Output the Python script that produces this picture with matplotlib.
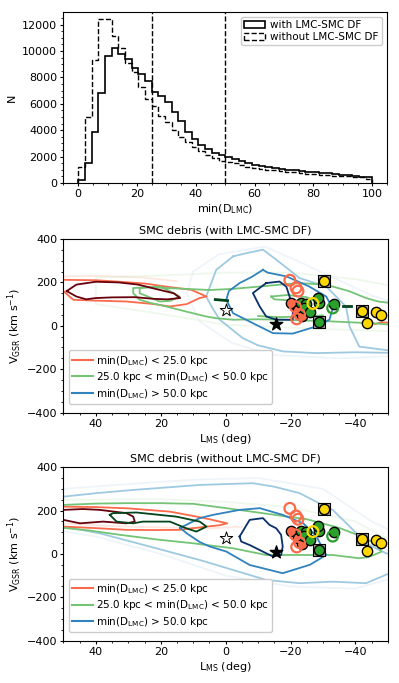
import numpy as np
import matplotlib
matplotlib.use('Agg')
import matplotlib.pyplot as plt
from matplotlib.lines import Line2D

plt.rcParams['font.size'] = 8
plt.rcParams['xtick.major.size'] = 2.5
plt.rcParams['ytick.major.size'] = 2.5
plt.rcParams['xtick.minor.size'] = 1.5
plt.rcParams['ytick.minor.size'] = 1.5
plt.rcParams['xtick.major.pad'] = 2
plt.rcParams['ytick.major.pad'] = 2

# ---------------- histogram of min(D_LMC) ----------------
bin_edges = np.linspace(0, 100, 45)
with_df = [200, 1500, 3850, 6850, 9600, 10200, 9750, 9400, 8700, 8250, 7700,
           6900, 6600, 6100, 5400, 4700, 3850, 3300, 2900, 2600, 2300, 2100,
           1950, 1800, 1700, 1550, 1400, 1300, 1200, 1120, 1060, 1000, 950, 900,
           860, 820, 780, 730, 680, 630, 580, 530, 480, 450]
without_df = [1200, 5000, 9300, 12450, 12450, 11150, 10200, 9100, 8400, 7300, 6400,
              5800, 5050, 4600, 4000, 3450, 3100, 2750, 2450, 2150, 1900, 1700,
              1600, 1480, 1370, 1250, 1150, 1080, 1010, 950, 900, 860, 810, 760,
              720, 680, 640, 610, 570, 540, 500, 460, 420, 330]
cuts = [25, 50]

# ---------------- observed points (L_MS, V_GSR) ----------------
yellow_L = [-30.2, -41.9, -46.4, -47.9, -43.6]
yellow_V = [208, 69, 63, 52, 14]
green_L = [-23.3, -24.8, -24.3, -28.9, -28.4, -26.0, -33.5, -28.8]
green_V = [105, 100, 82, 105, 128, 62, 100, 18]
red_fill_L = [-20.3, -22.3, -23.6]
red_fill_V = [105, 72, 45]
red_open_L = [-19.8, -21.7, -22.3, -21.5, -22.8, -21.9]
red_open_V = [210, 175, 160, 88, 52, 32]
boxed_L = [-30.2, -41.9, -28.8]
boxed_V = [208, 69, 18]
yellow_ring = (-26.9, 103)
green_ring = (-33.0, 82)
open_star = (0.0, 72)
filled_star = (-15.4, 8)

# ---------------- contours, with LMC-SMC DF ----------------
w_red_faint = [(50, 228), (38, 230), (25, 222), (15, 205)]
w_red_mid = [(50, 212), (40, 210), (33.6, 204), (25, 195), (18, 180), (10.6, 166), (5.9, 135),
             (8, 128), (12, 100), (17.2, 89), (22, 100), (30.6, 112), (40, 116), (47, 120), (50, 160)]
w_red_edge = [(-46, 8), (-48, 16), (-51, 14)]
w_red_dark = [(49, 160), (46, 190), (40, 203), (33, 200), (27, 190), (21, 168), (16, 150), (14, 128),
              (18, 122), (22, 124), (28, 132), (35, 131), (40, 128), (43, 122), (46, 135), (49, 160)]
w_green_faint = [(-51, 185), (-40, 215), (-20, 245), (0, 245), (20, 232), (40, 222),
                 (40, 100), (20, 55), (0, 5), (-30, -15), (-51, -25)]
w_green_mid = [(-51, 105), (-47, 112), (-43.3, 128), (-38, 160), (-33, 181), (-28, 192), (-22.8, 197),
               (-17, 190), (-10.5, 181), (-2, 170), (5, 165), (12, 170), (18, 174), (24, 178),
               (28.5, 174), (28.5, 151), (26.5, 120), (23, 105), (18.3, 89), (12, 65), (6, 43),
               (3, 35), (-2.3, 28), (-10, 30), (-17.6, 28), (-25, 24), (-33, 20), (-40, 15),
               (-45, 12), (-51, 5)]
w_green_loop = [(26.5, 174), (20.3, 181), (17.2, 160), (14.2, 135), (17, 115), (20.3, 112),
                (24, 135), (26.5, 150), (26.5, 174)]
w_green_inner = [(-14, 135), (-19, 142), (-25, 132), (-27, 118), (-21, 116), (-15, 122), (-14, 135)]
w_green_inner2 = [(-10, 45), (-16, 40), (-22, 42), (-30, 48)]
w_green_dark1 = [(3.2, 121), (-0.6, 116)]
w_green_dark2 = [(-36.3, 89), (-38.8, 89)]
w_blue_faint = [(10, 250), (2, 330), (-12, 365), (-22, 300), (-35, 210), (-45, 140), (-51, 110),
                (-51, -140), (-35, -150), (-15, -135), (-2, -80), (8, 20), (12, 150), (10, 250)]
w_blue_light = [(-2.3, 320), (-6.4, 335), (-11.5, 351), (-15.6, 305), (-22.8, 220), (-31, 181),
                (-37.1, 89), (-38.2, -3), (-41.2, -96), (-49.4, -112), (-52, -115), (-52, -125),
                (-40, -122), (-27.9, -126), (-17.6, -118), (-10, -90), (-5.3, -57), (1.8, 28),
                (4, 80), (6, 135), (2.9, 258), (-2.3, 320)]
w_blue_mid = [(-11.5, 258), (-8, 225), (-4.3, 197), (-1, 160), (-0.2, 120), (-2.3, 58), (-8.4, 12),
              (-14.6, -34), (-20.7, -36), (-27.9, -3), (-32, 28), (-33, 80), (-31, 135),
              (-25.8, 181), (-18.7, 228), (-13, 245), (-11.5, 258)]
w_blue_dark = [(-12.5, 197), (-16.6, 204), (-18.7, 181), (-19.7, 135), (-20.7, 80), (-20.7, 28),
               (-15.6, 28), (-12.5, 43), (-10.5, 89), (-8.4, 151), (-12.5, 197)]

# ---------------- contours, without LMC-SMC DF ----------------
o_red_faint = [(50, 140), (35, 128), (20, 122), (5, 118), (-5, 125)]
o_red_mid = [(50, 218), (40, 216), (30, 210), (17.2, 195), (10, 175), (5, 160), (-0.5, 141),
             (2, 132), (5.9, 126), (14.2, 111), (22, 110), (30.6, 111), (40.2, 119), (50, 126)]
o_red_dark = [(50, 203), (44, 207), (38.8, 203), (30.6, 188), (28.5, 172), (28, 149), (30.6, 141),
              (37.8, 149), (44.9, 141), (50, 157)]
o_green_faint = [(50, 250), (20, 252), (0, 240), (-20, 215), (-40, 150), (-51, 60)]
o_green_mid = [(50, 226), (40, 232), (30.6, 234), (20, 234), (10, 231), (-0.2, 211), (-8, 195),
               (-17.6, 175), (-25, 160), (-35, 120), (-42, 80), (-47, 40), (-48, 10), (-44, -15),
               (-41.2, -20), (-33, -5), (-22.8, -5), (-12.5, -5), (-2.3, 26), (5.9, 41), (10, 49),
               (20.3, 65), (32.6, 88), (42, 108), (50, 120)]
o_green_dark = [(35.7, 180), (34.7, 188), (27.5, 191), (15.2, 172), (8, 149), (5.9, 126), (9, 103),
                (12.1, 118), (17.2, 149), (25.5, 149), (28.5, 141), (33.6, 149), (35.7, 180)]
o_blue_faint = [(50, 300), (30, 322), (10, 342), (-10, 350), (-30, 300), (-45, 150), (-52, 100),
                (-52, -110), (-40, -160), (-20, -150), (0, -100), (20, 0), (40, 80), (52, 110)]
o_blue_light = [(50, 264), (40, 280), (28.5, 295), (15, 310), (8, 318), (0, 322), (-8.4, 326),
                (-15, 310), (-22.8, 280), (-28, 240), (-33, 203), (-38, 130), (-43.3, 49),
                (-49.4, 3), (-52, -5), (-52, -80), (-43.3, -135), (-33, -128), (-22.8, -135),
                (-12.5, -120), (-2.3, -74), (8, -28), (23.4, 34), (38.8, 95), (50, 126)]
o_blue_mid = [(14, 120), (8, 165), (3.9, 180), (-4.3, 203), (-10.5, 211), (-17.6, 180), (-24, 140),
              (-28, 80), (-31, -5), (-26, -50), (-17.6, -89), (-7.4, -51), (-0.2, 11), (4.9, 34),
              (8, 55), (12, 95), (14, 120)]
o_blue_dark = [(-4.3, 80), (-7.4, 157), (-11.5, 165), (-13.5, 134), (-15.6, 118), (-17.1, 88),
               (-17.6, 34), (-17.1, -5), (-14.6, -12), (-12.5, 3), (-10.5, 18), (-7.4, 41),
               (-4.8, 57), (-4.3, 80)]

red_c = ['#fcbba1', '#fb6a4a', '#67000d']
green_c = ['#c7e9c0', '#74c476', '#00441b']
blue_c = ['#deebf7', '#9ecae1', '#3182bd', '#08306b']


def draw(ax, pts, color, lw=1.3, alpha=1.0):
    xs, ys = zip(*pts)
    ax.plot(xs, ys, color=color, lw=lw, alpha=alpha, zorder=2)


def obs_points(ax):
    ax.scatter(boxed_L, boxed_V, marker='s', s=80, facecolor='#a0a0a0', edgecolor='k', lw=0.8, zorder=4)
    ax.scatter(red_fill_L, red_fill_V, s=55, facecolor='#fb6a4a', edgecolor='k', lw=1, zorder=5)
    ax.scatter(green_L, green_V, s=55, facecolor='#2ca02c', edgecolor='k', lw=1, zorder=5)
    ax.scatter(yellow_L, yellow_V, s=55, facecolor='gold', edgecolor='k', lw=1, zorder=5)
    ax.scatter(red_open_L, red_open_V, s=60, facecolor='none', edgecolor='#fb6a4a', lw=1.6, zorder=6)
    ax.scatter(*yellow_ring, s=60, facecolor='none', edgecolor='gold', lw=1.6, zorder=6)
    ax.scatter(*green_ring, s=60, facecolor='none', edgecolor='#2ca02c', lw=1.6, zorder=6)
    ax.scatter(*open_star, marker='*', s=90, facecolor='white', edgecolor='k', lw=0.7, zorder=6)
    ax.scatter(*filled_star, marker='*', s=90, facecolor='k', edgecolor='k', zorder=6)


def style_panel(ax, title):
    ax.set_xlim(50, -50)
    ax.set_ylim(-400, 400)
    ax.set_xticks([40, 20, 0, -20, -40])
    ax.set_yticks([-400, -200, 0, 200, 400])
    ax.minorticks_on()
    ax.set_title(title, fontsize=8, pad=4)
    ax.set_xlabel(r'L$_{\rm MS}$ (deg)', labelpad=2)
    ax.set_ylabel(r'V$_{\rm GSR}$ (km s$^{-1}$)', labelpad=2)
    handles = [Line2D([], [], color=red_c[1], lw=1.5),
               Line2D([], [], color=green_c[1], lw=1.5),
               Line2D([], [], color=blue_c[2], lw=1.5)]
    labels = [r'min(D$_{\rm LMC}$) < 25.0 kpc',
              r'25.0 kpc < min(D$_{\rm LMC}$) < 50.0 kpc',
              r'min(D$_{\rm LMC}$) > 50.0 kpc']
    ax.legend(handles, labels, loc='lower left', bbox_to_anchor=(0.0, 0.02), fontsize=7.5,
              handlelength=2, handletextpad=0.3, borderaxespad=0.5, labelspacing=0.25,
              borderpad=0.3, framealpha=1)


fig = plt.figure(figsize=(3.99, 6.83), dpi=100)

# top histogram
ax1 = fig.add_axes([0.159, 0.732, 0.811, 0.251])
centers = 0.5 * (bin_edges[:-1] + bin_edges[1:])
ax1.hist(centers, bins=bin_edges, weights=with_df, histtype='step', color='k', lw=1.2,
         label='with LMC-SMC DF')
ax1.hist(centers, bins=bin_edges, weights=without_df, histtype='step', color='k', lw=1.0,
         ls='--', label='without LMC-SMC DF')
for c in cuts:
    ax1.axvline(c, color='k', ls='--', lw=1.0)
ax1.set_xlim(-5, 105)
ax1.set_ylim(0, 12980)
ax1.set_yticks([0, 2000, 4000, 6000, 8000, 10000, 12000])
ax1.minorticks_on()
ax1.set_xlabel(r'min(D$_{\rm LMC}$)', labelpad=2)
ax1.set_ylabel('N', labelpad=4)
ax1.legend(loc='upper right', fontsize=7.5, handletextpad=0.5, labelspacing=0.2,
           borderpad=0.3, framealpha=1)

# middle: with DF
ax2 = fig.add_axes([0.159, 0.396, 0.813, 0.254])
draw(ax2, w_red_faint, red_c[0], alpha=0.35)
draw(ax2, w_green_faint, green_c[0], alpha=0.3)
draw(ax2, w_blue_faint, blue_c[0], alpha=0.5)
draw(ax2, w_blue_light, blue_c[1])
draw(ax2, w_red_mid, red_c[1])
draw(ax2, w_red_edge, red_c[1])
draw(ax2, w_green_mid, green_c[1])
draw(ax2, w_green_loop, green_c[1])
draw(ax2, w_green_inner, green_c[1])
draw(ax2, w_green_inner2, green_c[1])
draw(ax2, w_blue_mid, blue_c[2])
draw(ax2, w_red_dark, red_c[2])
draw(ax2, w_green_dark1, green_c[2], lw=2)
draw(ax2, w_green_dark2, green_c[2], lw=2)
draw(ax2, w_blue_dark, blue_c[3])
obs_points(ax2)
style_panel(ax2, 'SMC debris (with LMC-SMC DF)')

# bottom: without DF
ax3 = fig.add_axes([0.159, 0.062, 0.813, 0.254])
draw(ax3, o_red_faint, red_c[0], alpha=0.35)
draw(ax3, o_green_faint, green_c[0], alpha=0.3)
draw(ax3, o_blue_faint, blue_c[0], alpha=0.5)
draw(ax3, o_blue_light, blue_c[1])
draw(ax3, o_red_mid, red_c[1])
draw(ax3, o_green_mid, green_c[1])
draw(ax3, o_blue_mid, blue_c[2])
draw(ax3, o_red_dark, red_c[2])
draw(ax3, o_green_dark, green_c[2])
draw(ax3, o_blue_dark, blue_c[3])
obs_points(ax3)
style_panel(ax3, 'SMC debris (without LMC-SMC DF)')

fig.savefig('out.png', dpi=100)
